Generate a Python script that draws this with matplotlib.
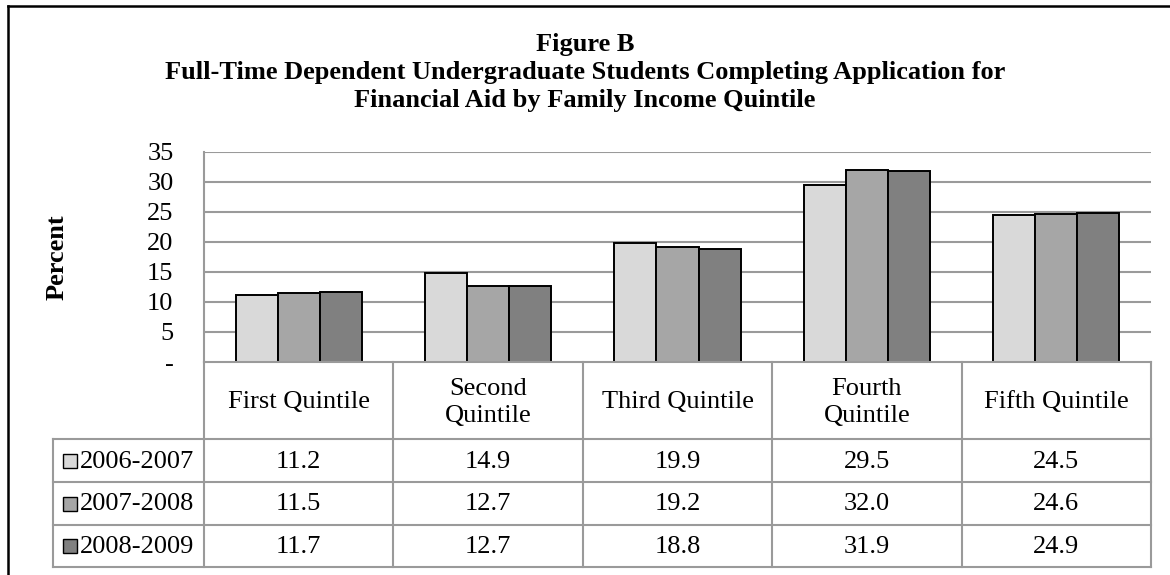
import numpy as np
import matplotlib
matplotlib.use('Agg')
import matplotlib.pyplot as plt
from matplotlib.lines import Line2D

plt.rcParams['font.family'] = ['Liberation Serif', 'DejaVu Serif']

quintiles = ['First Quintile', 'Second\nQuintile', 'Third Quintile', 'Fourth\nQuintile', 'Fifth Quintile']
years = ['2006-2007', '2007-2008', '2008-2009']
v0607 = [11.2, 14.9, 19.9, 29.5, 24.5]
v0708 = [11.5, 12.7, 19.2, 32.0, 24.6]
v0809 = [11.7, 12.7, 18.8, 31.9, 24.9]
series = [v0607, v0708, v0809]
colors = ['#D9D9D9', '#A6A6A6', '#808080']
yticks = [0, 5, 10, 15, 20, 25, 30, 35]

W, H = 1170, 575
fig = plt.figure(figsize=(W / 100, H / 100), dpi=100)
grid = '#9A9A9A'
fs = 19

# plot area in pixels
px0, px1, py0, py1 = 204, 1151, 152, 362
ax = fig.add_axes([px0 / W, 1 - py1 / H, (px1 - px0) / W, (py1 - py0) / H])
x = np.arange(len(quintiles))
bw = 1 / 4.5
for i, (vals, c) in enumerate(zip(series, colors)):
    ax.bar(x + (i - 1) * bw, vals, bw, color=c, edgecolor='black', linewidth=1.4, zorder=3)
ax.set_xlim(-0.5, 4.5)
ax.set_ylim(0, 35)
ax.set_yticks(yticks)
ax.set_yticklabels(['-' if t == 0 else str(t) for t in yticks], fontsize=fs)
ax.tick_params(axis='y', length=0, pad=22)
ax.set_xticks([])
for t in yticks[1:]:
    ax.axhline(t, color=grid, linewidth=1.5, zorder=1)
for s in ['top', 'right', 'bottom']:
    ax.spines[s].set_visible(False)
ax.spines['left'].set_color(grid)
ax.spines['left'].set_linewidth(1.5)
ax.text(57 / W, 1 - 257 / H, 'Percent', transform=fig.transFigure, rotation=90,
        ha='center', va='center', fontsize=fs, fontweight='bold')

# data table
ty0, ty1 = 362, 567
tab = fig.add_axes([px0 / W, 1 - ty1 / H, (px1 - px0) / W, (ty1 - ty0) / H])
tab.set_xlim(-0.5, 4.5)
tab.set_ylim(ty1 - ty0, 0)
tab.axis('off')
colw = (px1 - px0) / 5
xleft = -0.5 - (px0 - 53) / colw
hdr = 77
rows = [hdr, 120, 163, 205]
lw = 1.5
tab.plot([-0.5, 4.5], [0, 0], color=grid, lw=lw, clip_on=False)
for r in rows:
    tab.plot([xleft, 4.5], [r, r], color=grid, lw=lw, clip_on=False)
for b in np.arange(-0.5, 5.0, 1.0):
    tab.plot([b, b], [0, 205], color=grid, lw=lw, clip_on=False)
tab.plot([xleft, xleft], [hdr, 205], color=grid, lw=lw, clip_on=False)

for j, q in enumerate(quintiles):
    tab.text(j, hdr / 2 + 2, q, ha='center', va='center', fontsize=fs, multialignment='center', linespacing=1.3)
for i, (yr, vals, c) in enumerate(zip(years, series, colors)):
    yc = (rows[i] + rows[i + 1]) / 2
    tab.plot([-0.5 - 134 / colw], [yc], marker='s', markersize=10, markerfacecolor=c,
             markeredgecolor='black', markeredgewidth=1.0, clip_on=False)
    tab.text(-0.5 - 124 / colw, yc + 1, yr, ha='left', va='center', fontsize=fs)
    for j, v in enumerate(vals):
        tab.text(j, yc + 1, '%.1f' % v, ha='center', va='center', fontsize=fs)

# title
title = ['Figure B',
         'Full-Time Dependent Undergraduate Students Completing Application for',
         'Financial Aid by Family Income Quintile']
for k, line in enumerate(title):
    fig.text(585 / W, 1 - (45 + 28 * k) / H, line, ha='center', va='center', fontsize=fs, fontweight='bold')

# outer frame (left and top)
fig.add_artist(Line2D([8 / W, 8 / W], [0, 1 - 6 / H], color='black', lw=1.8, transform=fig.transFigure))
fig.add_artist(Line2D([8 / W, 1], [1 - 6 / H, 1 - 6 / H], color='black', lw=1.8, transform=fig.transFigure))

fig.savefig('out.png', dpi=100)
